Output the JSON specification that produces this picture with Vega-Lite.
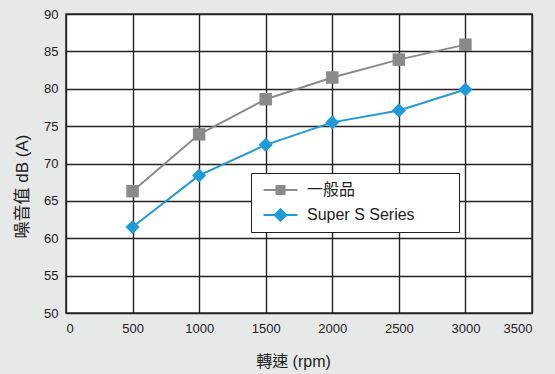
{
  "$schema": "https://vega.github.io/schema/vega-lite/v6.json",
  "width": 466,
  "height": 299,
  "autosize": "none",
  "padding": {"left": 66, "top": 14, "right": 23, "bottom": 61},
  "background": "#e7e8e8",
  "config": {
    "view": {"fill": "white", "stroke": "#333333", "strokeWidth": 1.6},
    "font": "Liberation Sans, sans-serif",
    "axis": {
      "domain": false,
      "ticks": false,
      "gridColor": "#222222",
      "gridWidth": 1.4,
      "gridOpacity": 1,
      "labelFont": "Liberation Sans, sans-serif",
      "labelFontSize": 13,
      "labelColor": "#222222",
      "titleFont": "Liberation Sans, Noto Sans CJK TC, sans-serif",
      "titleFontSize": 16,
      "titleFontWeight": "normal",
      "titleColor": "#222222"
    }
  },
  "data": {
    "values": [
      {"rpm": 500, "db": 66.3, "series": "一般品"},
      {"rpm": 1000, "db": 73.9, "series": "一般品"},
      {"rpm": 1500, "db": 78.6, "series": "一般品"},
      {"rpm": 2000, "db": 81.5, "series": "一般品"},
      {"rpm": 2500, "db": 83.9, "series": "一般品"},
      {"rpm": 3000, "db": 85.9, "series": "一般品"},
      {"rpm": 500, "db": 61.5, "series": "Super S Series"},
      {"rpm": 1000, "db": 68.4, "series": "Super S Series"},
      {"rpm": 1500, "db": 72.5, "series": "Super S Series"},
      {"rpm": 2000, "db": 75.5, "series": "Super S Series"},
      {"rpm": 2500, "db": 77.1, "series": "Super S Series"},
      {"rpm": 3000, "db": 79.9, "series": "Super S Series"}
    ]
  },
  "encoding": {
    "x": {
      "field": "rpm", "type": "quantitative",
      "scale": {"domain": [0, 3500], "nice": false},
      "axis": {"values": [0, 500, 1000, 1500, 2000, 2500, 3000, 3500], "format": "d", "title": "轉速 (rpm)", "labelPadding": 9, "titleX": 227, "titleY": 48, "titleBaseline": "middle", "titleAlign": "center"}
    },
    "y": {
      "field": "db", "type": "quantitative",
      "scale": {"domain": [50, 90], "nice": false, "zero": false},
      "axis": {"values": [50, 55, 60, 65, 70, 75, 80, 85, 90], "title": "噪音值  dB (A)", "labelPadding": 8, "titleFontSize": 17, "titleX": -44, "titleY": 172, "titleAngle": -90, "titleBaseline": "middle", "titleAlign": "center"}
    }
  },
  "layer": [
    {
      "transform": [{"filter": "datum.series === '一般品'"}],
      "mark": {"type": "line", "strokeWidth": 2, "color": "#8a8a8a"},
      "encoding": {}
    },
    {
      "transform": [{"filter": "datum.series === 'Super S Series'"}],
      "mark": {"type": "line", "strokeWidth": 2, "color": "#1f9bd7"},
      "encoding": {}
    },
    {
      "transform": [{"filter": "datum.series === '一般品'"}],
      "mark": {"type": "point", "shape": "square", "filled": true, "size": 156, "opacity": 1, "color": "#8a8a8a"}
    },
    {
      "transform": [{"filter": "datum.series === 'Super S Series'"}],
      "mark": {"type": "point", "shape": "diamond", "filled": true, "size": 200, "opacity": 1, "color": "#1f9bd7"}
    },
    {
      "mark": {"type": "point", "filled": true, "opacity": 0},
      "encoding": {
        "color": {
          "field": "series", "type": "nominal",
          "scale": {"domain": ["一般品", "Super S Series"], "range": ["#8a8a8a", "#1f9bd7"]},
          "legend": {
            "title": "MMM",
            "titleOrient": "right",
            "titleOpacity": 0,
            "titleFontSize": 12,
            "titlePadding": 5,
            "orient": "none",
            "legendX": 185,
            "legendY": 159,
            "padding": 9,
            "fillColor": "white",
            "strokeColor": "#222222",
            "symbolSize": 100,
            "symbolOpacity": 1,
            "symbolStrokeWidth": 0,
            "labelOffset": 31,
            "labelFontSize": 16,
            "labelColor": "#222222",
            "labelFont": "Liberation Sans, Noto Sans CJK TC, sans-serif",
            "rowPadding": 9,
            "labelLimit": 300,
            "encode": {"symbols": {"update": {"opacity": {"value": 1}, "fillOpacity": {"value": 1}}}}
          }
        },
        "shape": {
          "field": "series", "type": "nominal",
          "scale": {
            "domain": ["一般品", "Super S Series"],
            "range": [
              "M-0.9,-0.2H5.9V0.2H-0.9Z M1.5,-1H3.5V1H1.5Z",
              "M-0.9,-0.2H5.9V0.2H-0.9Z M2.5,-1.45L3.95,0L2.5,1.45L1.05,0Z"
            ]
          }
        }
      }
    }
  ]
}
